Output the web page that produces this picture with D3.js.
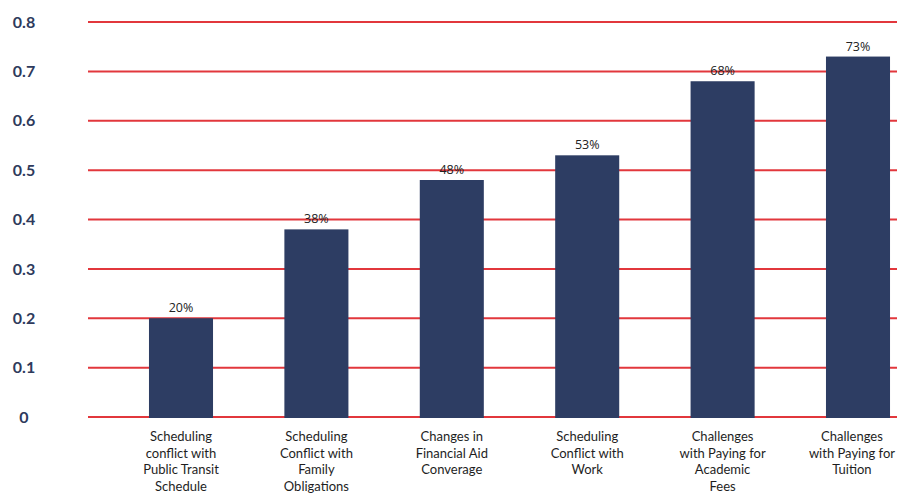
<!DOCTYPE html>
<html>
<head>
<meta charset="utf-8">
<script src="https://cdn.jsdelivr.net/npm/d3@7"></script>
<style>
  html, body { margin: 0; padding: 0; background: #ffffff; }
  svg { display: block; }
</style>
</head>
<body>
<svg id="chart" width="897" height="494"></svg>
<script>
// Reasons students reported, with the share reporting each
const categories = [
  ["Scheduling", "conflict with", "Public Transit", "Schedule"],
  ["Scheduling", "Conflict with", "Family", "Obligations"],
  ["Changes in", "Financial Aid", "Converage"],
  ["Scheduling", "Conflict with", "Work"],
  ["Challenges", "with Paying for", "Academic", "Fees"],
  ["Challenges", "with Paying for", "Tuition"]
];
const shares = [0.20, 0.38, 0.48, 0.53, 0.68, 0.73];
const valueLabels = ["20%", "38%", "48%", "53%", "68%", "73%"];
const yTicks = [0, 0.1, 0.2, 0.3, 0.4, 0.5, 0.6, 0.7, 0.8];
const yTickLabels = ["0", "0.1", "0.2", "0.3", "0.4", "0.5", "0.6", "0.7", "0.8"];

const W = 897;
const svg = d3.select("#chart");
const keys = categories.map((c, i) => i);

const x = d3.scaleBand()
  .domain(keys)
  .range([113.3, 925.7])
  .paddingInner(0.527)
  .paddingOuter(0.2635);

const y = d3.scaleLinear()
  .domain([0, 0.8])
  .range([417, 22]);

// Horizontal gridlines
svg.append("g")
  .selectAll("line")
  .data(yTicks)
  .join("line")
  .attr("x1", 88)
  .attr("x2", W)
  .attr("y1", d => y(d))
  .attr("y2", d => y(d))
  .attr("stroke", "#e2373c")
  .attr("stroke-width", 2);

// Y-axis labels
const yAxis = d3.axisLeft(y)
  .tickValues(yTicks)
  .tickFormat((d, i) => yTickLabels[i])
  .tickSize(0)
  .tickPadding(0);
const yg = svg.append("g")
  .attr("transform", "translate(24,0)")
  .call(yAxis);
yg.select(".domain").remove();
yg.selectAll("text")
  .attr("text-anchor", "middle")
  .attr("font-family", "Lato, 'Open Sans', sans-serif")
  .attr("font-weight", "700")
  .attr("font-size", 16)
  .attr("fill", "#2e3a5c");

// Bars
svg.append("g")
  .selectAll("rect")
  .data(shares)
  .join("rect")
  .attr("x", (d, i) => x(i))
  .attr("width", x.bandwidth())
  .attr("y", d => y(d))
  .attr("height", d => y(0) - y(d) + 1)
  .attr("fill", "#2d3d63");

// Value labels above bars
svg.append("g")
  .selectAll("text")
  .data(shares)
  .join("text")
  .attr("x", (d, i) => x(i) + x.bandwidth() / 2)
  .attr("y", d => y(d) - 6)
  .attr("text-anchor", "middle")
  .attr("font-family", "'Open Sans', sans-serif")
  .attr("font-size", 12.5)
  .attr("fill", "#222222")
  .text((d, i) => valueLabels[i]);

// Category labels below the baseline; a label that would run past the
// right edge is nudged left so every line stays visible
const xg = svg.append("g");
categories.forEach((lines, i) => {
  const cx = x(i) + x.bandwidth() / 2;
  const t = xg.append("text")
    .attr("y", 441)
    .attr("text-anchor", "middle")
    .attr("font-family", "Lato, 'Open Sans', sans-serif")
    .attr("font-size", 13)
    .attr("fill", "#1e1e1e");
  const spans = lines.map((line, j) =>
    t.append("tspan")
      .attr("x", cx)
      .attr("dy", j === 0 ? 0 : 16.7)
      .text(line));
  const widest = d3.max(spans, s => s.node().getComputedTextLength());
  const overflow = cx + widest / 2 - (W - 2);
  if (overflow > 0) spans.forEach(s => s.attr("x", cx - overflow));
});
</script>
</body>
</html>
